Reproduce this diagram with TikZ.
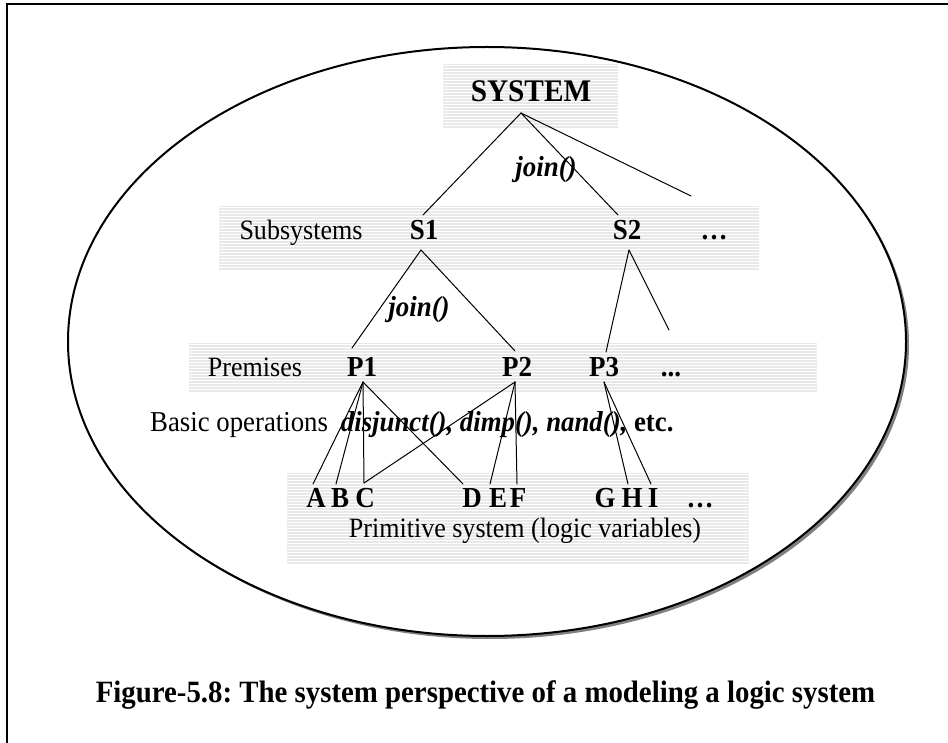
\documentclass[tikz,border=0pt]{standalone}
\usepackage{fontspec}
\setmainfont{Liberation Serif}[FakeStretch=0.93]
\frenchspacing
\newcommand\bandbox[4]{%
  \fill[black!9] (#1,#2) rectangle (#3,#4);
  \begin{scope}
    \clip (#1,#2) rectangle (#3,#4);
    \foreach \k in {0,...,34} \draw[white,line width=1.1pt] (#1,#2+3*\k+1.5) -- (#3,#2+3*\k+1.5);
  \end{scope}}
\begin{document}
\begin{tikzpicture}[x=1pt,y=-1pt,
  txt/.style={inner sep=0pt, anchor=base, font=\fontsize{28}{32}\selectfont},
  btxt/.style={inner sep=0pt, anchor=base, font=\fontsize{29}{32}\selectfont\bfseries},
  itxt/.style={inner sep=0pt, anchor=base, font=\fontsize{29}{32}\selectfont\bfseries\itshape},
  edge/.style={line width=1pt, line cap=round}]
\useasboundingbox (0,0) rectangle (948,743);
% frame
\draw[line width=1.6pt] (7,743) -- (7,4) -- (948,4);
% ellipse with shadow
\fill[black!50] (490,344.5) ellipse [x radius=419, y radius=294.5];
\draw[line width=2pt, fill=white] (487,341.5) ellipse [x radius=419, y radius=294.5];
% bands
\bandbox{443}{64}{618}{128}
\bandbox{219}{206}{759}{270}
\bandbox{189}{343}{817}{392}
\bandbox{287}{473}{749}{565}
% texts
\node[btxt, font=\fontsize{31.5}{34}\selectfont\bfseries] (sys) at (531,102) {SYSTEM};
\node[itxt] (join1) at (546,177) {join()};
\node[txt] (subl) at (301,240) {Subsystems};
\node[btxt] (S1) at (424,240) {S1};
\node[btxt] (S2) at (627,240) {S2};
\node[btxt] (sdots) at (714,240) {…};
\node[itxt] (join2) at (419,317) {join()};
\node[txt] (prl) at (255,376) {Premises};
\node[btxt] (P1) at (362,376) {P1};
\node[btxt] (P2) at (517,376) {P2};
\node[btxt] (P3) at (604,376) {P3};
\node[btxt] (pdots) at (671,376) {...};
\node[txt, anchor=base west, font=\fontsize{28.8}{32}\selectfont] (ops) at (150,431) {Basic operations\hspace{0.45em}\textbf{\textit{disjunct(), dimp(), nand(),}} \textbf{etc.}};
\node[btxt] (A) at (316,507) {A};
\node[btxt] (B) at (340,507) {B};
\node[btxt] (C) at (365,507) {C};
\node[btxt] (D) at (472,507) {D};
\node[btxt] (E) at (498,507) {E};
\node[btxt] (F) at (518,507) {F};
\node[btxt] (G) at (605,507) {G};
\node[btxt] (H) at (632,507) {H};
\node[btxt] (I) at (653,507) {I};
\node[btxt] (vdots) at (700,507) {…};
\node[txt] (prim) at (525,537) {Primitive system (logic variables)};
\node[txt, font=\fontsize{31}{34}\selectfont\bfseries] (cap) at (485.5,702) {Figure-5.8: The system perspective of a modeling a logic system};
% connector points
\coordinate (sysv) at (521,113);
\coordinate (S1t) at (423,215);
\coordinate (S2t) at (618,215);
\coordinate (more1) at (691,196);
\coordinate (S1b) at (421,250);
\coordinate (S2b) at (629,250);
\coordinate (P1t) at (352,348);
\coordinate (P2t) at (515,351);
\coordinate (P3t) at (606,352);
\coordinate (more2) at (669,330);
\coordinate (P1b) at (363,382);
\coordinate (P2b) at (515,382);
\coordinate (P3b) at (604,382);
\coordinate (At) at (313,484);
\coordinate (Bt) at (336,484);
\coordinate (Ct) at (364,483);
\coordinate (Dt) at (463,484);
\coordinate (Et) at (490,484);
\coordinate (Ft) at (517,484);
\coordinate (Ht) at (628,484);
\coordinate (It) at (651,484);
% connectors
\draw[edge] (sysv) -- (S1t);
\draw[edge] (sysv) -- (S2t);
\draw[edge] (sysv) -- (more1);
\draw[edge] (S1b) -- (P1t);
\draw[edge] (S1b) -- (P2t);
\draw[edge] (S2b) -- (P3t);
\draw[edge] (S2b) -- (more2);
\draw[edge] (P1b) -- (At);
\draw[edge] (P1b) -- (Bt);
\draw[edge] (P1b) -- (Ct);
\draw[edge] (P1b) -- (Dt);
\draw[edge] (P2b) -- (Ct);
\draw[edge] (P2b) -- (Et);
\draw[edge] (P2b) -- (Ft);
\draw[edge] (P3b) -- (Ht);
\draw[edge] (P3b) -- (It);
\end{tikzpicture}
\end{document}
